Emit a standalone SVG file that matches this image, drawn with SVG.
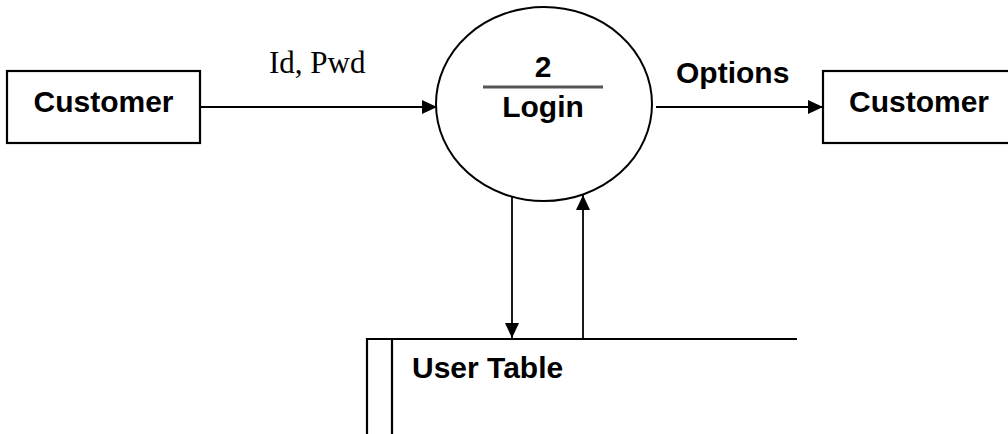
<svg xmlns="http://www.w3.org/2000/svg" width="1008" height="434" viewBox="0 0 1008 434">
<style>
.box{fill:#fff;stroke:#000;stroke-width:2.2}
.lbl{font-family:"Liberation Sans",Arial,sans-serif;font-weight:bold;font-size:30px;fill:#000}
.ser{font-family:"Liberation Serif","Times New Roman",serif;font-size:31px;fill:#000}
.flow{stroke:#000;stroke-width:1.8;fill:none}
</style>
<defs>
<marker id="ah" viewBox="0 0 15 14" refX="15" refY="7" markerWidth="15" markerHeight="14" markerUnits="userSpaceOnUse" orient="auto">
<path d="M0,0 L15,7 L0,14 Z" fill="#000"/>
</marker>
</defs>
<rect width="1008" height="434" fill="#fff"/>
<g id="customer-left">
<rect class="box" x="7" y="71" width="193" height="72"/>
<text class="lbl" x="103.5" y="111.5" text-anchor="middle">Customer</text>
</g>
<g id="login">
<ellipse cx="544" cy="104" rx="108" ry="97" fill="#fff" stroke="#000" stroke-width="2"/>
<text class="lbl" x="543" y="77" text-anchor="middle">2</text>
<line x1="483" y1="87" x2="603" y2="87" stroke="#555" stroke-width="3"/>
<text class="lbl" x="543" y="117" text-anchor="middle">Login</text>
</g>
<g id="customer-right">
<rect class="box" x="823" y="71" width="200" height="72"/>
<text class="lbl" x="849" y="111.5">Customer</text>
</g>
<g id="user-table">
<path d="M367,434 V339 H797 M392,339 V434" class="box" fill="none"/>
<text class="lbl" x="412" y="378">User Table</text>
</g>
<g id="connectors">
<line class="flow" x1="200" y1="107" x2="437" y2="107" marker-end="url(#ah)"/>
<text class="ser" x="269" y="73">Id, Pwd</text>
<line class="flow" x1="656" y1="107" x2="823" y2="107" marker-end="url(#ah)"/>
<text class="lbl" x="676" y="83">Options</text>
<line class="flow" x1="512" y1="197" x2="512" y2="338" marker-end="url(#ah)"/>
<line class="flow" x1="583" y1="338" x2="583" y2="195" marker-end="url(#ah)"/>
</g>
</svg>
